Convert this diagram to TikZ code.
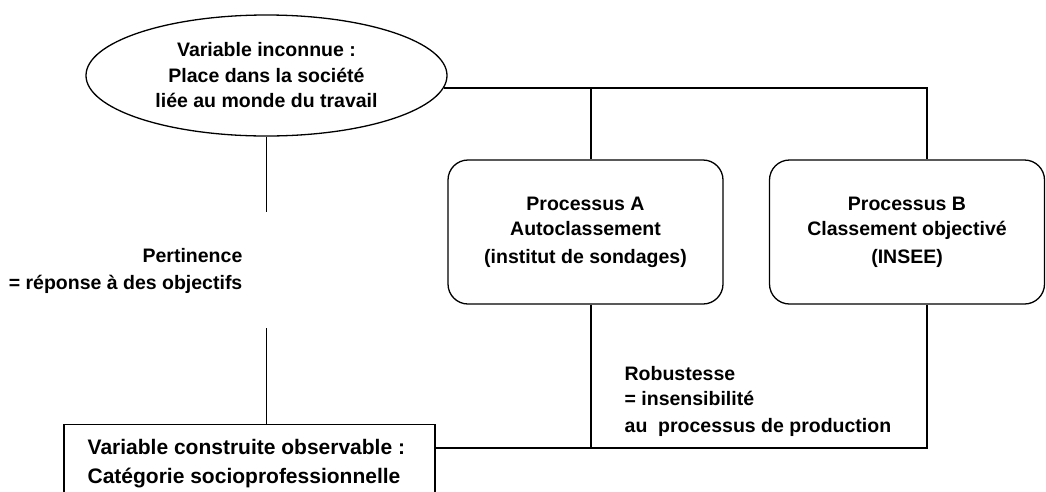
\documentclass[tikz,border=0pt]{standalone}
\usepackage{fontspec}
\setmainfont{Liberation Sans}
\usetikzlibrary{shapes.geometric}
\begin{document}
\begin{tikzpicture}[x=1pt,y=-1pt,line width=1.3pt,
  lbl/.style={font=\bfseries\fontsize{19.5}{25.5}\selectfont,align=center,inner sep=0pt},
  proc/.style={lbl,draw,rounded corners=20pt,minimum width=275pt,minimum height=144pt},
  free/.style={lbl,align=left,font=\bfseries\fontsize{19.5}{25}\selectfont}]
\useasboundingbox (0,0) rectangle (1046,491);
\clip (0,0) rectangle (1046,491);
\node[lbl,draw,ellipse,minimum width=361pt,minimum height=121pt] (ell) at (266.5,75.5)
  {Variable inconnue :\\Place dans la société\\liée au monde du travail};
\node[proc] (A) at (585.5,232) {Processus A\\Autoclassement\\[2pt](institut de sondages)};
\node[proc] (B) at (907,232) {Processus B\\Classement objectivé\\[2pt](INSEE)};
\node[draw,minimum width=371pt,minimum height=120pt,anchor=north,inner sep=0pt] (bot) at (249.5,424) {};
\node[lbl,align=left,anchor=north west,font=\bfseries\fontsize{21}{28.5}\selectfont] (bottxt) at (87,439)
  {Variable construite observable~:\\Catégorie socioprofessionnelle};
\node[free,align=right,anchor=north east] (pert) at (243,248)
  {Pertinence\\[2pt]= réponse à des objectifs};
\node[free,anchor=north west] (rob) at (624,366)
  {Robustesse\\= insensibilité\\[2pt]au~~processus de production};
\coordinate (xa) at (591,0);
\coordinate (xb) at (927,0);
\coordinate (yb) at (0,448);
\coordinate (g1) at (266.5,212);
\coordinate (g2) at (266.5,328);
\draw (ell.-4) -| (B.north -| xb);
\draw (A.north -| xa) -- (xa |- ell.-4);
\draw (bot.north east |- yb) -| (B.south -| xb);
\draw (A.south -| xa) -- (xa |- yb);
\draw (ell.south) -- (g1);
\draw (g2) -- (g2 |- bot.north);
\end{tikzpicture}
\end{document}
